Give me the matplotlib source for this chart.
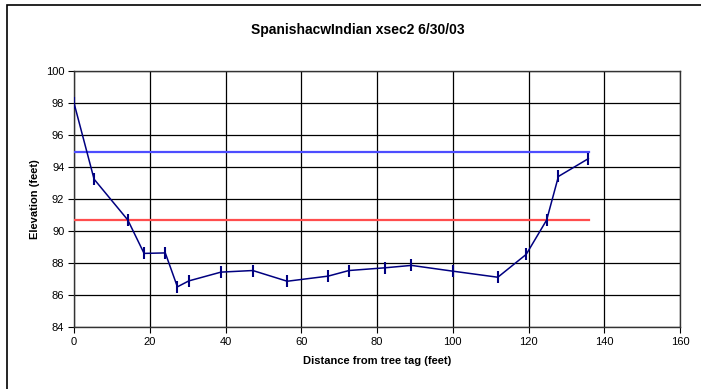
import matplotlib
matplotlib.use("Agg")
import matplotlib.pyplot as plt
from matplotlib.patches import Rectangle

plt.rcParams['font.family'] = ['Liberation Sans', 'DejaVu Sans']

distance = [0, 5.3, 14.2, 18.5, 24.1, 27.3, 30.3, 38.8, 47.2, 56.3, 67.1, 72.6,
            82.1, 89.1, 100, 111.9, 119.4, 124.8, 127.9, 135.8]
elevation = [98.0, 93.24, 90.69, 88.6, 88.63, 86.51, 86.88, 87.43, 87.53, 86.86,
             87.18, 87.53, 87.7, 87.85, 87.49, 87.11, 88.54, 90.69, 93.41, 94.52]
blue_x = [0, 136]
blue_y = [94.92, 94.92]
red_x = [0, 136]
red_y = [90.7, 90.7]

title = "SpanishacwIndian xsec2 6/30/03"
xlabel = "Distance from tree tag (feet)"
ylabel = "Elevation (feet)"

fig = plt.figure(figsize=(7.01, 3.89), dpi=100)
W, H = 701, 389
ax = fig.add_axes([74 / W, 1 - 327 / H, (680 - 74) / W, (327 - 71) / H])

ax.plot(blue_x, blue_y, color='#4d4dff', lw=1.6, zorder=3)
ax.plot(red_x, red_y, color='#ff4d4d', lw=1.6, zorder=3)
ax.plot(distance, elevation, color='#000080', lw=1.1, marker='|',
        markersize=8, markeredgewidth=1.5, zorder=4)

ax.set_xlim(0, 160)
ax.set_ylim(84, 100)
ax.set_xticks(range(0, 161, 20))
ax.set_yticks(range(84, 101, 2))
ax.grid(True, color='black', lw=0.9)
ax.set_axisbelow(True)
for s in ax.spines.values():
    s.set_color('#333333')
    s.set_linewidth(1.0)
ax.tick_params(direction='out', length=4, width=0.8, labelsize=8, pad=3, colors='black')

ax.set_xlabel(xlabel, fontsize=8, fontweight='bold', labelpad=7)
ax.set_ylabel(ylabel, fontsize=8, fontweight='bold', labelpad=4)

fig.text(358 / W, 1 - 30 / H, title, fontsize=10, fontweight='bold',
         ha='center', va='center')

fig.patches.append(Rectangle((7 / W, -0.1), 1.2, 1 - 5 / H + 0.1,
                             transform=fig.transFigure, fill=False,
                             edgecolor='black', lw=1.2))

fig.savefig('out.png', dpi=100)
